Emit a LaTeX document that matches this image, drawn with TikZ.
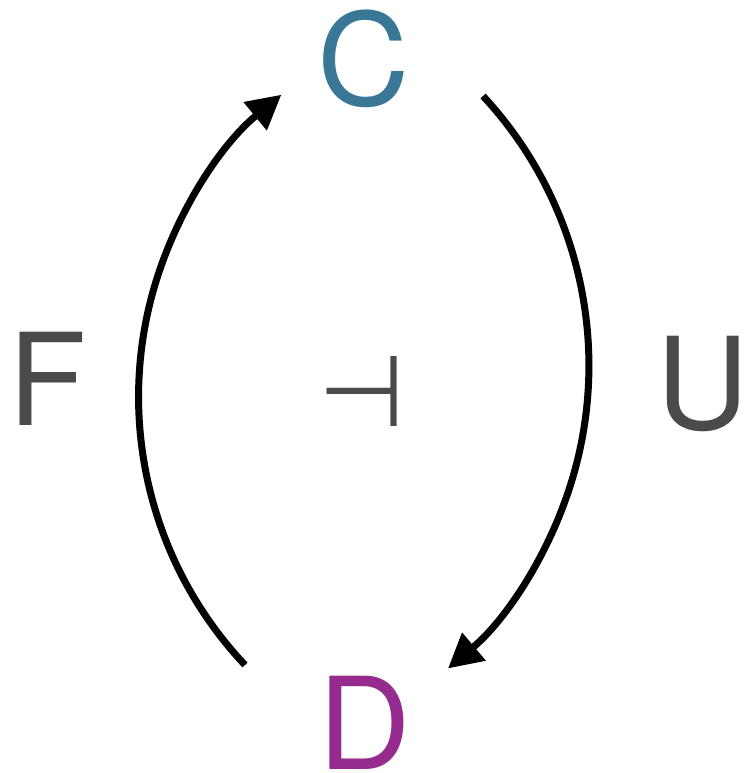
\documentclass[tikz,border=0pt]{standalone}
\usepackage{fontspec}
\setmainfont{TeX Gyre Heros}
\newfontfamily\symfont{DejaVu Sans}
\usetikzlibrary{arrows.meta}
\definecolor{cblue}{HTML}{3A7797}
\definecolor{dpurple}{HTML}{952A8F}
\definecolor{tgray}{HTML}{4A4A4A}
\begin{document}
\begin{tikzpicture}[x=1pt,y=1pt,
  lbl/.style={inner sep=0pt, anchor=center, font=\fontsize{128}{128}\selectfont},
  arr/.style={line width=7pt, -{Triangle[length=34pt,width=35pt]}}]
\useasboundingbox (0,0) rectangle (744,-773);
\node[lbl, text=cblue] (C) at (363.5,-58.5) {C};
\node[lbl, text=dpurple] (D) at (364.5,-722.5) {D};
\node[lbl, text=tgray] (F) at (47.5,-378.5) {F};
\node[lbl, text=tgray] (U) at (703,-384) {U};
\node[inner sep=0pt, anchor=center, text=tgray, font=\symfont\fontsize{100}{100}\selectfont] (adj) at (362.5,-391) {⊣};
\draw[arr] ([shift={(-119.5,57.5)}]D.center) arc[start angle=223.3, end angle=129.4, radius=391];
\draw[arr] ([shift={(119.5,-37.5)}]C.center) arc[start angle=42.9, end angle=-49.9, radius=396];
\end{tikzpicture}
\end{document}
